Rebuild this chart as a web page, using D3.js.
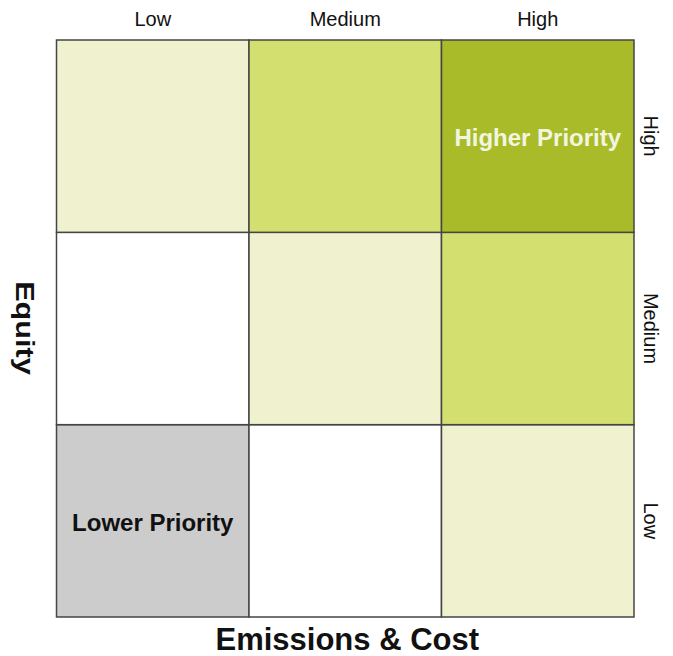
<!DOCTYPE html>
<html><head><meta charset="utf-8">
<script src="https://cdn.jsdelivr.net/npm/d3@7"></script>
<style>body{margin:0;background:#fff}svg{display:block}</style>
</head><body><svg id="c" width="673" height="656"></svg>
<script>
const emissionLevels = ["Low", "Medium", "High"];
const equityLevels = ["Low", "Medium", "High"];
// priority score per cell, rows = equity (Low..High), cols = emissions (Low..High)
const cellScores = [
  [0, 1, 2],
  [1, 2, 3],
  [2, 3, 4]
];
const scoreColors = ["#cccccc", "#ffffff", "#f0f2cf", "#d3e06f", "#a9bb29"];
const cellLabels = [
  {emission: "Low", equity: "Low", text: "Lower Priority", color: "#111111"},
  {emission: "High", equity: "High", text: "Higher Priority", color: "#f2f6e0"}
];

const svg = d3.select("#c");
const gLeft = 56.5, gRight = 634, gTop = 40, gBottom = 617;
const x = d3.scaleBand().domain(emissionLevels).range([gLeft, gRight]);
const y = d3.scaleBand().domain(equityLevels).range([gBottom, gTop]);

const cells = [];
equityLevels.forEach((eq, i) => emissionLevels.forEach((em, j) => cells.push({eq, em, s: cellScores[i][j]})));

svg.selectAll("rect.cell").data(cells).join("rect")
  .attr("class", "cell")
  .attr("x", d => x(d.em)).attr("y", d => y(d.eq))
  .attr("width", x.bandwidth()).attr("height", y.bandwidth())
  .attr("fill", d => scoreColors[d.s])
  .attr("stroke", "#454545").attr("stroke-width", 1.5);

const font = "Liberation Sans, Arial, sans-serif";
svg.selectAll("text.topl").data(emissionLevels).join("text")
  .attr("class", "topl")
  .attr("x", d => x(d) + x.bandwidth() / 2).attr("y", 26)
  .attr("text-anchor", "middle").attr("font-family", font).attr("font-size", 20).attr("fill", "#111")
  .text(d => d);

svg.selectAll("text.right").data(equityLevels).join("text")
  .attr("class", "right")
  .attr("transform", d => `translate(644,${y(d) + y.bandwidth() / 2}) rotate(90)`)
  .attr("text-anchor", "middle").attr("font-family", font).attr("font-size", 20).attr("fill", "#111")
  .text(d => d);

svg.append("text")
  .attr("transform", `translate(16,${(gTop + gBottom) / 2 - 0.5}) rotate(90) scale(1.18,1)`)
  .attr("text-anchor", "middle").attr("font-family", font).attr("font-size", 26).attr("font-weight", "bold")
  .attr("fill", "#111").text("Equity");

svg.append("text")
  .attr("x", (gLeft + gRight) / 2 + 2).attr("y", 650)
  .attr("text-anchor", "middle").attr("font-family", font).attr("font-size", 31).attr("font-weight", "bold")
  .attr("fill", "#111").text("Emissions & Cost");

svg.selectAll("text.lbl").data(cellLabels).join("text")
  .attr("class", "lbl")
  .attr("x", d => x(d.emission) + x.bandwidth() / 2)
  .attr("y", d => y(d.equity) + y.bandwidth() / 2 + 10)
  .attr("text-anchor", "middle").attr("font-family", font).attr("font-size", 24).attr("font-weight", "bold")
  .attr("fill", d => d.color).text(d => d.text);
</script></body></html>
